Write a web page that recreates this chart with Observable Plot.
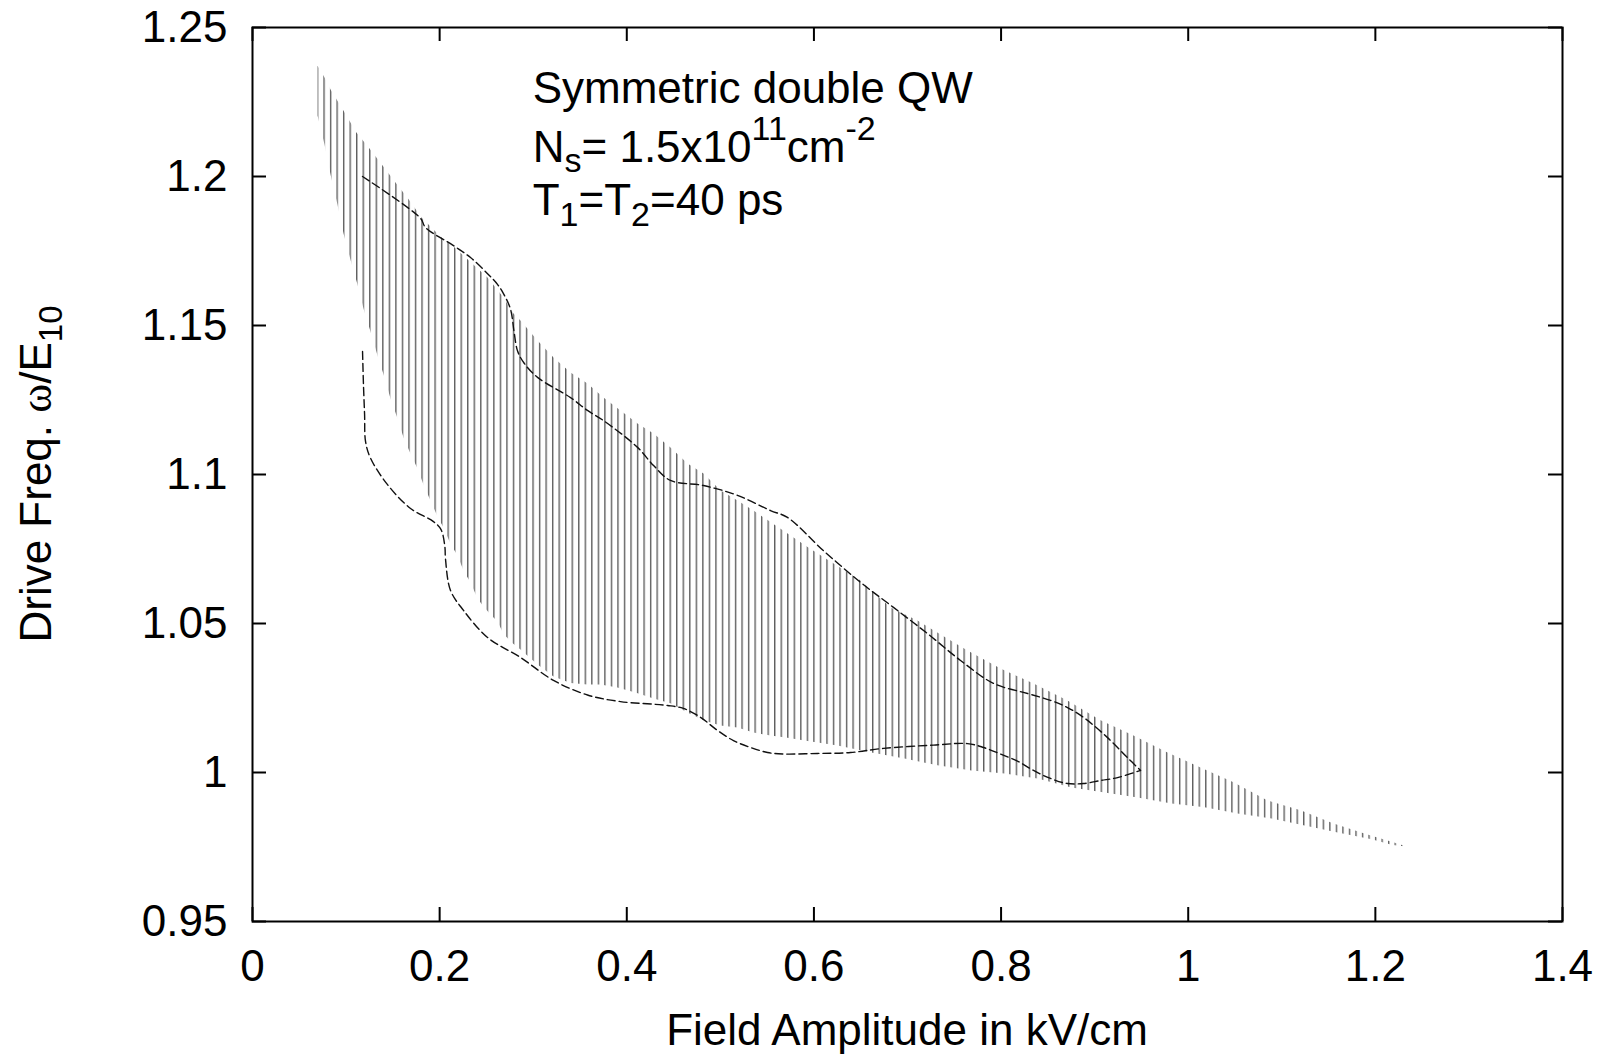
<!DOCTYPE html>
<html>
<head>
<meta charset="utf-8">
<script src="https://cdn.jsdelivr.net/npm/d3@7"></script>
<script src="https://cdn.jsdelivr.net/npm/@observablehq/plot@0.6"></script>
<style>
  html, body { margin: 0; padding: 0; background: #fff; }
  #chart svg { display: block; }
</style>
</head>
<body>
<div id="chart"></div>
<script>
// ---- Data ----
const xTicks = [0, 0.2, 0.4, 0.6, 0.8, 1.0, 1.2, 1.4];
const xTickLabels = ["0", "0.2", "0.4", "0.6", "0.8", "1", "1.2", "1.4"];
const yTicks = [0.95, 1.0, 1.05, 1.1, 1.15, 1.2, 1.25];
const yTickLabels = ["0.95", "1", "1.05", "1.1", "1.15", "1.2", "1.25"];

// upper edge of the hatched (dotted) region, left to right
const shadeTop = [
  [0.0695,1.2372],[0.077,1.2332],[0.0834,1.2292],[0.0973,1.2221],[0.111,1.2148],[0.125,1.2094],
  [0.139,1.2037],[0.1528,1.198],[0.167,1.1923],[0.1806,1.1862],[0.202,1.1795],[0.2148,1.1765],
  [0.2512,1.1661],[0.2682,1.1594],[0.2789,1.154],[0.2864,1.1517],[0.3046,1.145],[0.3217,1.1393],
  [0.3399,1.1342],[0.358,1.1305],[0.3751,1.1258],[0.3933,1.1215],[0.4115,1.1171],[0.4286,1.1138],
  [0.4467,1.1091],[0.4649,1.1037],[0.482,1.1003],[0.5002,1.0946],[0.5183,1.0913],[0.5354,1.0879],
  [0.594,1.0755],[0.6498,1.0644],[0.6818,1.0554],[0.7107,1.051],[0.7278,1.0477],[0.7641,1.0409],
  [0.7994,1.0349],[0.8347,1.0299],[0.871,1.0242],[0.9063,1.0175],[0.9415,1.0124],[0.9779,1.0067],
  [1.0131,1.0017],[1.0484,0.9967],[1.0848,0.9906],[1.12,0.9873],[1.1553,0.9829],[1.1916,0.9792],
  [1.2183,0.9767],[1.2335,0.9752]
];
// lower edge of the hatched region, left to right
const shadeBottom = [
  [0.0695,1.2205],[0.0769,1.2108],[0.0834,1.2007],[0.0908,1.1906],[0.0973,1.1809],[0.1047,1.1721],
  [0.1122,1.1638],[0.1186,1.1557],[0.1261,1.148],[0.1336,1.1399],[0.14,1.1336],[0.1475,1.1255],
  [0.155,1.1188],[0.1614,1.1124],[0.1689,1.107],[0.1763,1.102],[0.1828,1.0966],[0.1902,1.0913],
  [0.1977,1.0859],[0.2041,1.0822],[0.2116,1.0768],[0.2191,1.0728],[0.2255,1.0678],[0.233,1.0638],
  [0.2405,1.0584],[0.2469,1.0557],[0.2544,1.053],[0.2618,1.0507],[0.2682,1.0466],[0.2757,1.044],
  [0.2864,1.0413],[0.3046,1.0362],[0.3217,1.0322],[0.3399,1.030],[0.358,1.0295],[0.3719,1.0295],
  [0.39,1.0285],[0.41,1.0268],[0.4286,1.0248],[0.4467,1.0232],[0.4649,1.0201],[0.482,1.0175],
  [0.5,1.0158],[0.5183,1.0151],[0.5354,1.0134],[0.5536,1.0124],[0.5717,1.0117],[0.5898,1.0107],
  [0.6252,1.0091],[0.6615,1.0067],[0.6968,1.0047],[0.732,1.0024],[0.7684,1.0007],[0.8037,0.9997],
  [0.839,0.998],[0.8753,0.995],[0.9106,0.9933],[0.9459,0.9916],[0.9822,0.9896],[1.0175,0.9883],
  [1.0527,0.9862],[1.0891,0.9846],[1.1244,0.9822],[1.1597,0.9799],[1.196,0.9776],[1.2183,0.9757],
  [1.2335,0.9744]
];
// dashed boundary, upper branch
const upperDash = [
  [0.1176,1.2],[0.1795,1.186],[0.1849,1.1829],[0.2148,1.1768],[0.233,1.1728],[0.2512,1.1674],
  [0.2618,1.1638],[0.2682,1.1607],[0.2757,1.1555],[0.2795,1.148],[0.2832,1.1415],[0.29,1.1375],
  [0.3046,1.1326],[0.3399,1.1258],[0.358,1.1215],[0.3751,1.1181],[0.4115,1.1091],[0.4286,1.103],
  [0.4467,1.098],[0.482,1.0963],[0.5183,1.093],[0.5536,1.0879],[0.5717,1.0856],[0.61,1.0745],
  [0.6498,1.0638],[0.685,1.0554],[0.7214,1.0466],[0.7567,1.0376],[0.7919,1.0299],[0.8283,1.0265],
  [0.8528,1.0242],[0.871,1.0218],[0.8881,1.0185],[0.9138,1.0117],[0.9351,1.005],[0.949,1.0007]
];
// dashed boundary, lower branch
const lowerDash = [
  [0.1176,1.1413],[0.1186,1.13],[0.1198,1.12],[0.1208,1.1111],[0.1261,1.1055],[0.1443,1.0966],
  [0.1689,1.0886],[0.1934,1.0842],[0.2015,1.0815],[0.2055,1.076],[0.2063,1.0715],[0.2116,1.0611],
  [0.2255,1.0544],[0.2512,1.0453],[0.2864,1.0386],[0.3217,1.0309],[0.358,1.026],[0.3933,1.0238],
  [0.4435,1.0225],[0.4606,1.0215],[0.4788,1.0185],[0.497,1.0141],[0.514,1.0107],[0.5322,1.0084],
  [0.5504,1.0067],[0.5675,1.0062],[0.6038,1.0064],[0.6391,1.0067],[0.6744,1.0081],[0.7278,1.0092],
  [0.7641,1.0097],[0.7812,1.0084],[0.7994,1.0062],[0.8176,1.0038],[0.8347,1.0007],[0.8528,0.998],
  [0.871,0.9963],[0.8881,0.9963],[0.9063,0.9973],[0.9245,0.9983],[0.949,1.0007]
];
const hatchStep = 0.00698; // spacing of the dotted columns, in field units

// ---- Layout ----
const W = 1604, H = 1057;
const ML = 252, MR = 42, MT = 27, MB = 136;
const PW = W - ML - MR, PH = H - MT - MB;
const TICK = 14;
const FS = 44;
const FONT = "'Liberation Sans', Arial, Helvetica, sans-serif";

const shadePoly = [...shadeTop, ...shadeBottom.slice(0, -1).reverse()].map(([x, y]) => ({x, y}));
const up = upperDash.map(([x, y]) => ({x, y}));
const lo = lowerDash.map(([x, y]) => ({x, y}));

const plot = Plot.plot({
  width: W, height: H,
  marginLeft: ML, marginRight: MR, marginTop: MT, marginBottom: MB,
  x: {domain: [0, 1.4]},
  y: {domain: [0.95, 1.25]},
  style: {fontFamily: FONT, color: "black", background: "white", overflow: "visible"},
  marks: [
    Plot.line(shadePoly, {x: "x", y: "y", fill: "url(#hatch)", stroke: "none"}),
    Plot.line(up, {x: "x", y: "y", stroke: "#111", strokeWidth: 1.4, strokeDasharray: "8,4", curve: "catmull-rom"}),
    Plot.line(lo, {x: "x", y: "y", stroke: "#111", strokeWidth: 1.4, strokeDasharray: "8,4", curve: "catmull-rom"}),
    // inward ticks on all four sides
    Plot.tickX(xTicks, {x: d => d, insetTop: PH - TICK, stroke: "black", strokeWidth: 2}),
    Plot.tickX(xTicks, {x: d => d, insetBottom: PH - TICK, stroke: "black", strokeWidth: 2}),
    Plot.tickY(yTicks, {y: d => d, insetRight: PW - TICK, stroke: "black", strokeWidth: 2}),
    Plot.tickY(yTicks, {y: d => d, insetLeft: PW - TICK, stroke: "black", strokeWidth: 2}),
    Plot.frame({stroke: "black", strokeWidth: 2}),
    Plot.axisX({ticks: xTicks, tickSize: 0, tickPadding: 28, fontSize: FS, label: null,
      tickFormat: d => xTickLabels[xTicks.indexOf(d)]}),
    Plot.axisY({ticks: yTicks, tickSize: 0, tickPadding: 25, fontSize: FS, label: null,
      tickFormat: d => yTickLabels[yTicks.indexOf(d)]})
  ]
});

const svg = d3.select(plot);
const xs = plot.scale("x");

// hatch pattern: dotted vertical columns
const defs = svg.insert("defs", ":first-child");
const step = xs.apply(hatchStep) - xs.apply(0);
const pat = defs.append("pattern")
  .attr("id", "hatch")
  .attr("patternUnits", "userSpaceOnUse")
  .attr("x", xs.apply(shadeTop[0][0]) - 0.7)
  .attr("y", 0)
  .attr("width", step)
  .attr("height", 2);
pat.append("rect").attr("x", 0).attr("y", 0).attr("width", 1.4).attr("height", 1.25).attr("fill", "#000");

// axis titles
svg.append("text")
  .attr("x", ML + PW / 2).attr("y", 1045)
  .attr("text-anchor", "middle").attr("font-size", FS).attr("fill", "black")
  .text("Field Amplitude in kV/cm");

const yt = svg.append("text")
  .attr("transform", `translate(51,${MT + PH / 2}) rotate(-90)`)
  .attr("text-anchor", "middle").attr("font-size", FS).attr("fill", "black");
yt.append("tspan").text("Drive Freq. ");
yt.append("tspan").attr("font-family", "'Liberation Serif', 'DejaVu Serif', serif").text("ω");
yt.append("tspan").text("/E");
yt.append("tspan").attr("font-size", 33).attr("dy", 11).text("10");

// annotation
const ax = xs.apply(0.3);
const ann = svg.append("g").attr("font-size", FS).attr("fill", "black").attr("text-anchor", "start");
ann.append("text").attr("x", ax).attr("y", 103).attr("text-anchor", "start").text("Symmetric double QW");
const t2 = ann.append("text").attr("x", ax).attr("y", 162).attr("text-anchor", "start");
t2.append("tspan").text("N");
t2.append("tspan").attr("font-size", 34).attr("dy", 10).text("s");
t2.append("tspan").attr("dy", -10).text("= 1.5x10");
t2.append("tspan").attr("font-size", 34).attr("dy", -22).text("11");
t2.append("tspan").attr("dy", 22).text("cm");
t2.append("tspan").attr("font-size", 34).attr("dy", -22).text("-2");
const t3 = ann.append("text").attr("x", ax).attr("y", 215).attr("text-anchor", "start");
t3.append("tspan").text("T");
t3.append("tspan").attr("font-size", 34).attr("dy", 11).text("1");
t3.append("tspan").attr("dy", -11).text("=T");
t3.append("tspan").attr("font-size", 34).attr("dy", 11).text("2");
t3.append("tspan").attr("dy", -11).text("=40 ps");

document.getElementById("chart").appendChild(plot);
</script>
</body>
</html>
